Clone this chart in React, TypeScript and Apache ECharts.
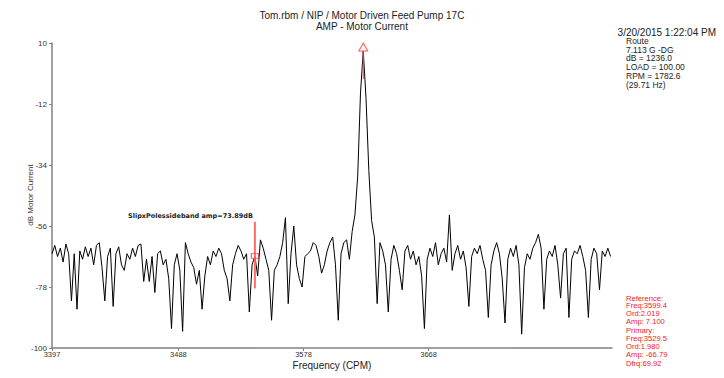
import React, { useEffect, useRef } from "react";
import * as echarts from "echarts";

const freqStart = 3397;
const freqStep = 2;
const amplitudes = [
  -66, -63, -67, -64, -69, -62.5, -66, -83, -66, -86,
  -65, -68, -63.5, -67, -64, -70, -63, -62, -71, -83,
  -67, -64, -85, -66, -63.5, -70, -72, -66, -68, -64,
  -67, -63, -62.5, -76, -68, -76, -67, -80, -66, -65,
  -70, -68, -75, -93, -70, -66, -72, -94, -62, -66,
  -69, -71, -77, -72, -86, -74, -67, -70, -65, -67,
  -64, -66, -72, -75, -83, -70, -66, -63, -65, -68,
  -66, -87, -70, -66.8, -74, -61, -64, -68, -72, -90,
  -72, -70, -67, -62, -53, -84, -66, -56, -70, -75,
  -78, -67, -66, -65, -62, -63, -67, -73, -70, -65,
  -62, -60, -70, -90, -66, -62, -61, -68, -58, -52,
  -38, -8, 7.1, -10, -36, -54, -60, -84, -62, -65,
  -70, -87, -68, -63, -66, -72, -79, -65, -63, -68,
  -65, -70, -67, -74, -93, -68, -64, -67, -62, -70,
  -66, -64, -69, -52, -72, -66, -63, -68, -65, -71,
  -85, -67, -64, -66, -63, -68, -72, -89, -70, -65,
  -62, -66, -75, -91, -68, -64, -67, -63, -70, -95,
  -71, -66, -68, -64, -62, -59, -64, -86, -68, -65,
  -67, -63, -70, -82, -66, -64, -89, -68, -65, -66,
  -63, -67, -72, -89, -68, -64, -66, -79, -65, -67,
  -64, -67,
];
const xTicks = [3397, 3488, 3578, 3668];
const yTicks = [10, -12, -34, -56, -78, -100];
const peakFreq = 3621;
const peakAmp = 7.1;
const primaryFreq = 3543;
const primaryAmp = -66.8;

const infoLines = ["Route", "7.113 G -DG", "dB = 1236.0", "LOAD = 100.00", "RPM = 1782.6", "(29.71 Hz)"];
const refLines = ["Reference:", "Freq:3599.4", "Ord:2.019", "Amp: 7.100", "", "Primary:", "Freq:3529.5", "Ord:1.980", "Amp: -66.79", "", "Dfrq:69.92"];

export default function App() {
  const ref = useRef<HTMLDivElement>(null);
  useEffect(() => {
    if (!ref.current) return;
    const chart = echarts.init(ref.current, null, { renderer: "svg" });
    const data = amplitudes.map((v, i) => [freqStart + i * freqStep, v]);
    const font = "Liberation Sans, Arial, sans-serif";
    const graphics: any[] = [
      { type: "text", left: "center", top: 10, style: { text: "Tom.rbm / NIP / Motor Driven Feed Pump 17C", font: `10px ${font}`, fill: "#222" } },
      { type: "text", left: "center", top: 21, style: { text: "AMP - Motor Current", font: `10px ${font}`, fill: "#222" } },
      { type: "text", right: 8, top: 27, style: { text: "3/20/2015 1:22:04 PM", font: `10px ${font}`, fill: "#222" } },
      { type: "text", x: 128, y: 216, style: { text: "SlipxPolessideband amp=73.89dB", font: `bold 6.5px DejaVu Sans, sans-serif`, fill: "#222", textVerticalAlign: "middle" } },
      { type: "text", x: 332, y: 365, style: { text: "Frequency (CPM)", font: `10px ${font}`, fill: "#222", textAlign: "center", textVerticalAlign: "middle" } },
      { type: "text", x: 30, y: 195, rotation: Math.PI / 2, style: { text: "dB Motor Current", font: `8px Liberation Sans Narrow, Arial Narrow, sans-serif`, fill: "#333", textAlign: "center", textVerticalAlign: "middle" } },
    ];
    infoLines.forEach((t, i) => {
      graphics.push({ type: "text", x: 626, y: 41 + i * 8.7, style: { text: t, font: `8.5px ${font}`, fill: "#222", textVerticalAlign: "middle" } });
    });
    let yy = 298;
    refLines.forEach((t) => {
      if (t === "") { yy += 1.5; return; }
      graphics.push({ type: "text", x: 626, y: yy, style: { text: t, font: `7.6px ${font}`, fill: "#ee2222", textVerticalAlign: "middle" } });
      yy += 7.8;
    });
    chart.setOption({
      animation: false,
      grid: { left: 52, right: 112, top: 43, bottom: 30 },
      xAxis: {
        type: "value",
        min: 3397,
        max: 3800,
        axisLine: { onZero: false, lineStyle: { color: "#808080", width: 1.5 } },
        axisTick: { customValues: xTicks, length: 3, lineStyle: { color: "#808080" } },
        axisLabel: { customValues: xTicks, fontSize: 7.5, color: "#333", margin: 2, fontFamily: font, formatter: (v: number) => String(v) },
        splitLine: { show: false },
      },
      yAxis: {
        type: "value",
        min: -100,
        max: 10,
        axisLine: { show: true, onZero: false, lineStyle: { color: "#808080", width: 1.5 } },
        axisTick: { show: true, customValues: yTicks, length: 3, lineStyle: { color: "#808080" } },
        axisLabel: { customValues: yTicks, fontSize: 8, color: "#333", margin: 5, fontFamily: font, formatter: (v: number) => String(v) },
        splitLine: { show: false },
      },
      series: [
        {
          type: "line",
          data,
          showSymbol: false,
          lineStyle: { color: "#000", width: 1 },
          z: 2,
        },
        {
          type: "line",
          data: [[primaryFreq, -54.5], [primaryFreq, -78.5]],
          showSymbol: false,
          lineStyle: { color: "#ff6a6a", width: 2 },
          z: 3,
        },
        {
          type: "line",
          data: [[peakFreq, peakAmp], [peakFreq, -3]],
          showSymbol: false,
          lineStyle: { color: "#ff4040", width: 1 },
          z: 3,
        },
        {
          type: "scatter",
          data: [[primaryFreq, primaryAmp]],
          symbol: "rect",
          symbolSize: [7, 5],
          itemStyle: { color: "rgba(0,0,0,0)", borderColor: "#ff3030", borderWidth: 1 },
          z: 4,
        },
        {
          type: "scatter",
          data: [[peakFreq, peakAmp]],
          symbol: "triangle",
          symbolSize: [9, 8],
          symbolOffset: [0, -4],
          itemStyle: { color: "rgba(0,0,0,0)", borderColor: "#ff3030", borderWidth: 1 },
          z: 4,
        },
      ],
      graphic: graphics,
    });
    return () => chart.dispose();
  }, []);
  return <div ref={ref} style={{ position: "fixed", left: 0, top: 0, width: 724, height: 378, background: "#fff" }} />;
}
